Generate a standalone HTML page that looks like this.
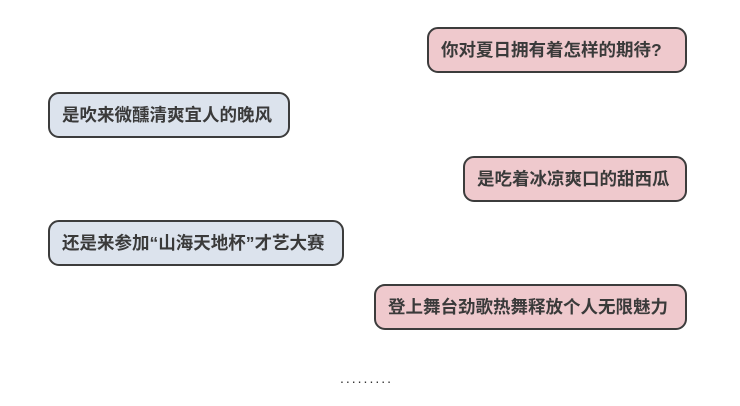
<!DOCTYPE html>
<html><head><meta charset="utf-8"><style>
body{margin:0;width:740px;height:406px;background:#fff;position:relative;overflow:hidden;font-family:"Liberation Sans","Noto Sans CJK SC",sans-serif;}
.b{position:absolute;box-sizing:border-box;height:46px;border:2px solid #3c3c3c;border-radius:11px;font-size:17.5px;font-weight:bold;color:#3a3a3a;line-height:42px;padding-left:12px;white-space:nowrap;}
.p{background:#efc9cd;}
.q{background:#dce3ed;}
.d{position:absolute;left:340px;top:370px;font-size:14px;color:#333;letter-spacing:2px;}
</style></head><body>
<div class="b p" style="left:427px;top:27px;width:260px">你对夏日拥有着怎样的期待?</div>
<div class="b q" style="left:48px;top:92px;width:242px">是吹来微醺清爽宜人的晚风</div>
<div class="b p" style="left:463px;top:156px;width:224px">是吃着冰凉爽口的甜西瓜</div>
<div class="b q" style="left:48px;top:220px;width:296px">还是来参加“山海天地杯”才艺大赛</div>
<div class="b p" style="left:374px;top:284px;width:313px">登上舞台劲歌热舞释放个人无限魅力</div>
<div class="d">.........</div>
</body></html>
